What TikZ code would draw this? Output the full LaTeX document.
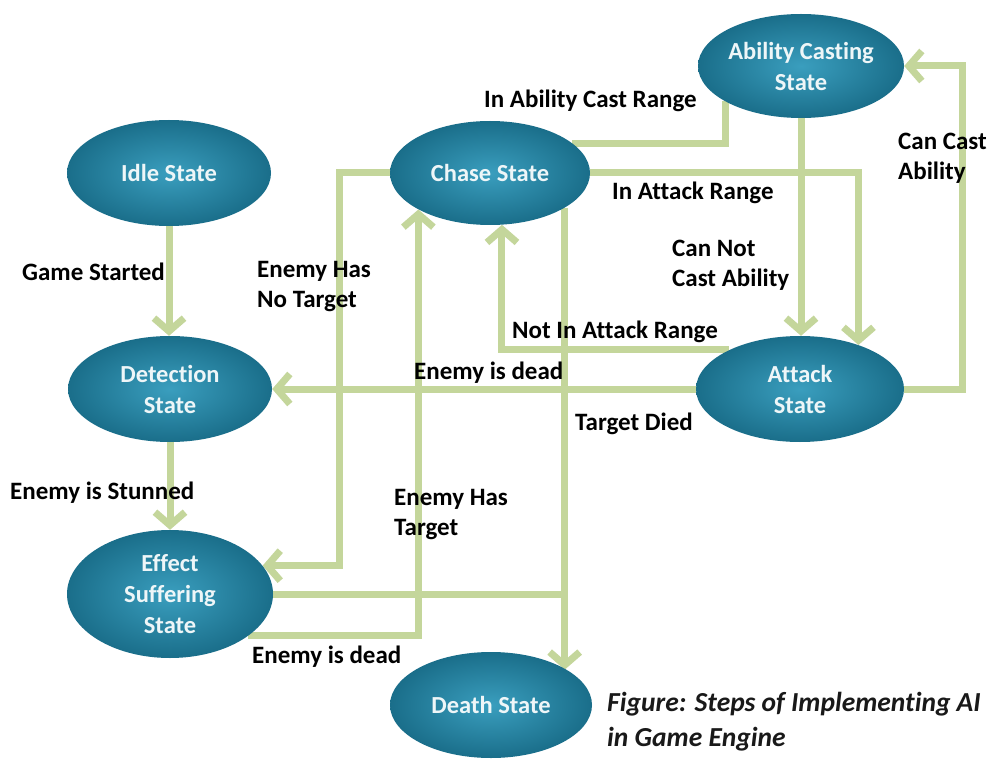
\documentclass[tikz,border=0pt]{standalone}
\usepackage{fontspec}
\setmainfont{Carlito}[Ligatures=NoCommon]
\usetikzlibrary{shapes.geometric,arrows.meta}
\pgfdeclarelayer{bg}
\pgfsetlayers{bg,main}
\definecolor{lnk}{RGB}{196,214,155}
\definecolor{stin}{RGB}{58,158,190}
\definecolor{stout}{RGB}{26,110,138}
\definecolor{sttext}{RGB}{238,246,248}
\begin{document}
\begin{tikzpicture}[x=1pt,y=-1pt,
  state/.style={ellipse, inner sep=0pt, minimum width=204pt, minimum height=106pt,
    shade, inner color=stin, outer color=stout, text=sttext, align=center,
    font=\bfseries\fontsize{24.5}{31}\selectfont},
  conn/.style={draw=lnk, line width=7pt},
  arr/.style={conn, -{Straight Barb[length=13pt,width=30pt]}},
  lbl/.style={anchor=west, align=left, inner sep=0pt,
    font=\bfseries\fontsize{25}{30}\selectfont},
  captxt/.style={anchor=west, align=left, inner sep=0pt, text=black!90,
    font=\bfseries\itshape\fontsize{27.5}{35}\selectfont}]
\useasboundingbox (0,0) rectangle (995,759);

\node[state] (idle) at (169,173) {Idle State};
\node[state] (det) at (170,389) {Detection\\State};
\node[state, minimum width=206pt, minimum height=128pt] (eff) at (170,594) {Effect\\Suffering\\State};
\node[state, minimum width=200pt, minimum height=104pt] (chase) at (490,173) {Chase State};
\node[state, minimum width=206pt, minimum height=104pt] (abil) at (801,66) {Ability Casting\\State};
\node[state, minimum width=208pt] (att) at (800,389) {Attack\\State};
\node[state, minimum width=202pt] (death) at (491,705) {Death State};

\begin{pgfonlayer}{bg}
\fill[white] (0,0) rectangle (995,759);
\draw[arr] (idle.south) -- (idle.south |- det.north);
\draw[arr] (det.south) -- (det.south |- eff.north);
\draw[arr] (chase.west) -- ++(-50,0) |- (eff.17);
\draw[arr] (eff.-28) -| (chase.-153);
\coordinate (dv) at (chase.-25);
\draw[arr] (dv) -- (dv |- death.25);
\draw[conn] (eff.east) -- (eff.east -| dv);
\draw[arr] (att.west) -- (det.east);
\draw[conn] (chase.20) -| (abil.-155);
\draw[arr] (abil.south) -- (abil.south |- att.north);
\draw[arr] (chase.east) -| (att.37);
\draw[arr] (att.151) -| (chase.-77);
\draw[arr] (att.east) -- ++(58,0) |- (abil.east);
\end{pgfonlayer}

\node[lbl] (l1) at (22,272) {Game Started};
\node[lbl] (l2) at (10,493) {Enemy is Stunned};
\node[lbl] (l3) at (257,287) {Enemy Has\\No Target};
\node[lbl] (l4) at (394,515) {Enemy Has\\Target};
\node[lbl] (l5) at (252,657) {Enemy is dead};
\node[lbl] (l6) at (414,373) {Enemy is dead};
\node[lbl] (l7) at (575,424) {Target Died};
\node[lbl] (l8) at (512,332) {Not In Attack Range};
\node[lbl] (l9) at (672,265) {Can Not\\Cast Ability};
\node[lbl] (l10) at (612,193) {In Attack Range};
\node[lbl] (l11) at (484,101) {In Ability Cast Range};
\node[lbl] (l12) at (898,158) {Can Cast\\Ability};
\node[captxt] (capt) at (607,722) {Figure: Steps of Implementing AI\\in Game Engine};
\end{tikzpicture}
\end{document}
